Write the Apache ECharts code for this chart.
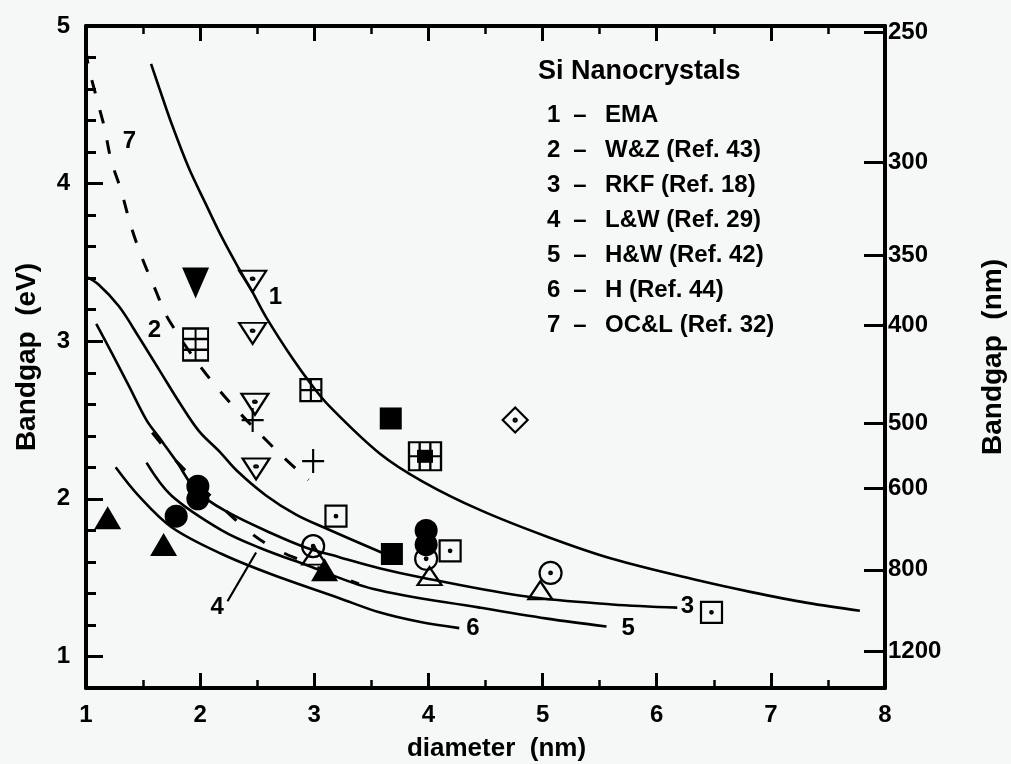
<!DOCTYPE html>
<html>
<head>
<meta charset="utf-8">
<title>Si Nanocrystals bandgap vs diameter</title>
<script src="https://cdn.jsdelivr.net/npm/echarts@6/dist/echarts.min.js"></script>
<style>
  html, body { margin: 0; padding: 0; background: #f6f8f7; }
  #chart { width: 1011px; height: 764px; }
</style>
</head>
<body>
<div id="chart"></div>
<script>
// ---- theory curves: [diameter (nm), bandgap (eV)] ----
const emaCurve = [[1.57,4.76],[1.64,4.61],[1.75,4.38],[1.90,4.10],[2.05,3.87],[2.19,3.66],[2.34,3.46],[2.46,3.31],[2.58,3.15],[2.81,2.89],[2.98,2.72],[3.13,2.59],[3.57,2.29],[3.95,2.11],[4.45,1.93],[5.04,1.76],[5.61,1.62],[6.38,1.48],[6.82,1.41],[7.32,1.34],[7.78,1.29]];
const wzCurve = [[1.00,3.41],[1.11,3.36],[1.29,3.22],[1.46,3.03],[1.64,2.82],[1.82,2.61],[1.99,2.43],[2.17,2.30],[2.32,2.18],[2.58,2.02],[2.84,1.90],[3.11,1.81],[3.62,1.65]];
const rkfCurve = [[1.09,3.11],[1.23,2.92],[1.38,2.71],[1.53,2.50],[1.64,2.39],[1.79,2.24],[1.97,2.05],[2.23,1.92],[2.63,1.78],[2.93,1.69],[3.22,1.63],[3.57,1.56],[3.95,1.50],[4.86,1.38],[5.61,1.33],[6.18,1.31]];
const lwCurve = [[1.58,2.42],[1.79,2.24],[2.32,1.86],[2.59,1.71],[2.88,1.61],[3.39,1.46]];
const hwCurve = [[1.53,2.23],[1.75,2.02],[2.19,1.80],[2.52,1.69],[2.93,1.58],[3.51,1.43],[4.45,1.31],[5.04,1.24],[5.56,1.19]];
const hCurve = [[1.26,2.20],[1.46,2.02],[1.75,1.82],[2.19,1.65],[2.63,1.52],[3.22,1.37],[3.57,1.28],[3.92,1.22],[4.27,1.18]];
const oclCurve = [[1.00,4.85],[1.02,4.75],[1.09,4.55],[1.16,4.36],[1.22,4.15],[1.31,3.95],[1.39,3.74],[1.48,3.55],[1.60,3.34],[1.73,3.13],[2.12,2.73],[2.65,2.32],[2.95,2.12]];

// pointer from the "4" tag to the L&W curve
const lwPointer = [[2.24,1.35],[2.49,1.66]];

// curve number tags
const tagNames = ['1','2','3','4','5','6','7'];
const tagD = [2.66, 1.60, 6.27, 2.15, 5.75, 4.39, 1.38];
const tagE = [3.28, 3.07, 1.32, 1.31, 1.18, 1.18, 4.27];

// ---- experimental points: [diameter (nm), bandgap (eV)] ----
const openDownTri = [[2.46,3.38],[2.46,3.05],[2.48,2.60],[2.49,2.19]];
const filledDownTri = [[1.96,3.37]];
const gridTall = [[1.96,2.98]];
const gridSquare = [[2.97,2.69]];
const gridWide = [[3.97,2.27]];
const filledSquare = [[3.67,2.51],[3.68,1.65]];
const crosses = [[2.46,2.50],[2.99,2.24]];
const diamondDot = [[4.76,2.50]];
const squareDot = [[3.19,1.89],[4.19,1.67],[6.48,1.28]];
const filledCircle = [[1.79,1.89],[1.98,2.08],[1.98,2.00],[3.98,1.80],[3.98,1.71]];
const circleDot = [[2.99,1.70],[3.98,1.62],[5.07,1.53]];
const openUpTri = [[3.00,1.64],[4.01,1.51],[4.98,1.42]];
const filledUpTri = [[1.19,1.88],[1.68,1.71],[3.09,1.55]];

// ---- axes ----
const eVTicks = [1, 2, 3, 4, 5];
const nmTicks = [250, 300, 350, 400, 500, 600, 800, 1200];
const HC = 1240; // eV·nm

// ---- legend block ----
const legendTitle = 'Si Nanocrystals';
const legendNums = ['1','2','3','4','5','6','7'];
const legendNames = ['EMA','W&Z (Ref. 43)','RKF (Ref. 18)','L&W (Ref. 29)','H&W (Ref. 42)','H (Ref. 44)','OC&L (Ref. 32)'];

const FONT = '"Liberation Sans", Arial, Helvetica, sans-serif';
const INK = '#000';

// symbol outlines (stroked, unfilled)
const DOT = 'M5 4.4A0.6 0.6 0 1 1 5 5.6A0.6 0.6 0 1 1 5 4.4Z';
const SYM = {
  squareDot: 'path://M0 0H10V10H0Z' + DOT,
  circleDot: 'path://M0 5A5 5 0 1 1 10 5A5 5 0 1 1 0 5Z' + DOT,
  diamondDot: 'path://M5 0L10 5L5 10L0 5Z' + DOT,
  downTriDot: 'path://M0 0H10L5 10Z M5 3.2A0.6 0.6 0 1 1 5 4.4A0.6 0.6 0 1 1 5 3.2Z',
  gridTall: 'path://M0 0H8V12H0Z M4 0V12 M0 4H8 M0 8H8',
  gridSquare: 'path://M0 0H10V10H0Z M5 0V10 M0 5H10',
  gridWide: 'path://M0 0H12V10H0Z M4 0V10 M8 0V10 M0 5H12',
  cross: 'path://M5 0V10 M0 5H10'
};

function curve(data, dash, width) {
  return {
    type: 'line', data: data, showSymbol: false, smooth: 0.35, silent: true, z: 3,
    lineStyle: { color: INK, width: width || 2.6, type: dash || 'solid', cap: 'butt' }
  };
}
function marks(data, symbol, size, filled, extra) {
  return Object.assign({
    type: 'scatter', data: data, symbol: symbol, symbolSize: size, silent: true, z: 5,
    itemStyle: filled ? { color: INK, opacity: 1 }
                      : { color: 'rgba(0,0,0,0)', borderColor: INK, borderWidth: 2.2, opacity: 1 }
  }, extra || {});
}

const tagSeries = {
  type: 'scatter', silent: true, z: 6, symbol: 'circle', symbolSize: 1,
  itemStyle: { color: 'rgba(0,0,0,0)', opacity: 1 },
  data: tagNames.map((t, i) => ({ value: [tagD[i], tagE[i]], name: t })),
  label: { show: true, position: 'inside', formatter: p => p.name,
           fontFamily: FONT, fontSize: 24, fontWeight: 'bold', color: INK, opacity: 1 }
};

const axisLineStyle = { lineStyle: { color: INK, width: 4 } };
const tickStyle = { color: INK, width: 3 };
const labelFont = { fontFamily: FONT, fontSize: 24, fontWeight: 'bold', color: INK };
const nameFont = { fontFamily: FONT, fontSize: 26, fontWeight: 'bold', color: INK };
const yNameFont = { fontFamily: FONT, fontSize: 28, fontWeight: 'bold', color: INK };

const graphicText = [{
  type: 'text', x: 538, y: 72,
  style: { text: legendTitle, font: 'bold 27px ' + FONT, fill: INK, verticalAlign: 'middle', align: 'left' }
}];
legendNums.forEach((n, i) => {
  const y = 115 + i * 35;
  graphicText.push({ type: 'text', x: 547, y: y, style: { text: n, font: 'bold 24px ' + FONT, fill: INK, verticalAlign: 'middle', align: 'left' } });
  graphicText.push({ type: 'text', x: 580, y: y, style: { text: '–', font: 'bold 24px ' + FONT, fill: INK, verticalAlign: 'middle', align: 'center' } });
  graphicText.push({ type: 'text', x: 605, y: y, style: { text: legendNames[i], font: 'bold 24px ' + FONT, fill: INK, verticalAlign: 'middle', align: 'left' } });
});

const option = {
  animation: false,
  backgroundColor: '#f6f8f7',
  grid: { left: 86, right: 126, top: 26, bottom: 76, containLabel: false, outerBoundsMode: 'none' },
  xAxis: [{
    type: 'value', min: 1, max: 8, interval: 1, position: 'bottom',
    name: 'diameter  (nm)', nameLocation: 'middle', nameGap: 48,
    nameTextStyle: Object.assign({ padding: [0, 0, 0, 22] }, nameFont),
    axisLine: axisLineStyle,
    axisTick: { inside: true, length: 15, lineStyle: tickStyle },
    minorTick: { show: true, splitNumber: 2, length: 8, lineStyle: { color: INK, width: 2.5 } },
    splitLine: { show: false }, minorSplitLine: { show: false },
    axisLabel: Object.assign({ margin: 15 }, labelFont)
  }, {
    type: 'value', min: 1, max: 8, interval: 1, position: 'top',
    axisLine: axisLineStyle,
    axisTick: { inside: true, length: 15, lineStyle: tickStyle },
    minorTick: { show: true, splitNumber: 2, length: 8, lineStyle: { color: INK, width: 2.5 } },
    splitLine: { show: false }, axisLabel: { show: false }
  }],
  yAxis: [{
    type: 'value', min: 0.8, max: 5, position: 'left',
    name: 'Bandgap  (eV)', nameLocation: 'middle', nameGap: 45, nameRotate: 90, nameTextStyle: yNameFont,
    axisLine: axisLineStyle,
    axisTick: { inside: true, length: 17, lineStyle: tickStyle, customValues: eVTicks },
    axisLabel: Object.assign({ margin: 16, customValues: eVTicks }, labelFont),
    splitLine: { show: false }
  }, {
    type: 'value', min: 0.8, max: 5, position: 'right',
    name: 'Bandgap  (nm)', nameLocation: 'middle', nameGap: 94, nameRotate: 90, nameTextStyle: yNameFont,
    axisLine: axisLineStyle,
    axisTick: { inside: true, length: 21, lineStyle: tickStyle, customValues: nmTicks.map(n => HC / n) },
    axisLabel: Object.assign({ margin: 3, customValues: nmTicks.map(n => HC / n),
                               formatter: v => String(Math.round(HC / v)) }, labelFont),
    splitLine: { show: false }
  }, {
    type: 'value', min: 0.8, max: 5, interval: 0.2, position: 'left',
    axisLine: { show: false },
    axisTick: { inside: true, length: 10, lineStyle: tickStyle },
    axisLabel: { show: false }, splitLine: { show: false }
  }],
  graphic: graphicText,
  series: [
    curve(emaCurve),
    curve(wzCurve),
    curve(rkfCurve),
    curve(lwCurve, [14, 22], 3),
    curve(hwCurve),
    curve(hCurve),
    curve(oclCurve, [14, 17], 3),
    { type: 'line', data: lwPointer, showSymbol: false, silent: true, z: 3, lineStyle: { color: INK, width: 2.2 } },
    tagSeries,
    marks(openDownTri, SYM.downTriDot, [27, 21], false),
    marks(filledDownTri, 'triangle', [27, 31], true, { symbolRotate: 180 }),
    marks(gridTall, SYM.gridTall, [25, 32], false),
    marks(gridSquare, SYM.gridSquare, [21, 22], false),
    marks(gridWide, 'rect', [16, 13], true),
    marks(gridWide, SYM.gridWide, [32, 28], false),
    marks(filledSquare, 'rect', [22, 22], true),
    marks(crosses, SYM.cross, [22, 24], false),
    marks(diamondDot, SYM.diamondDot, [25, 25], false),
    marks(squareDot, SYM.squareDot, [21, 21], false),
    marks(filledCircle, 'circle', 23, true),
    marks(circleDot, SYM.circleDot, [22, 22], false),
    marks(openUpTri, 'triangle', [24, 18], false),
    marks(filledUpTri, 'triangle', [27, 23], true)
  ]
};

const chart = echarts.init(document.getElementById('chart'), null, { renderer: 'canvas' });
chart.setOption(option);
</script>
</body>
</html>
